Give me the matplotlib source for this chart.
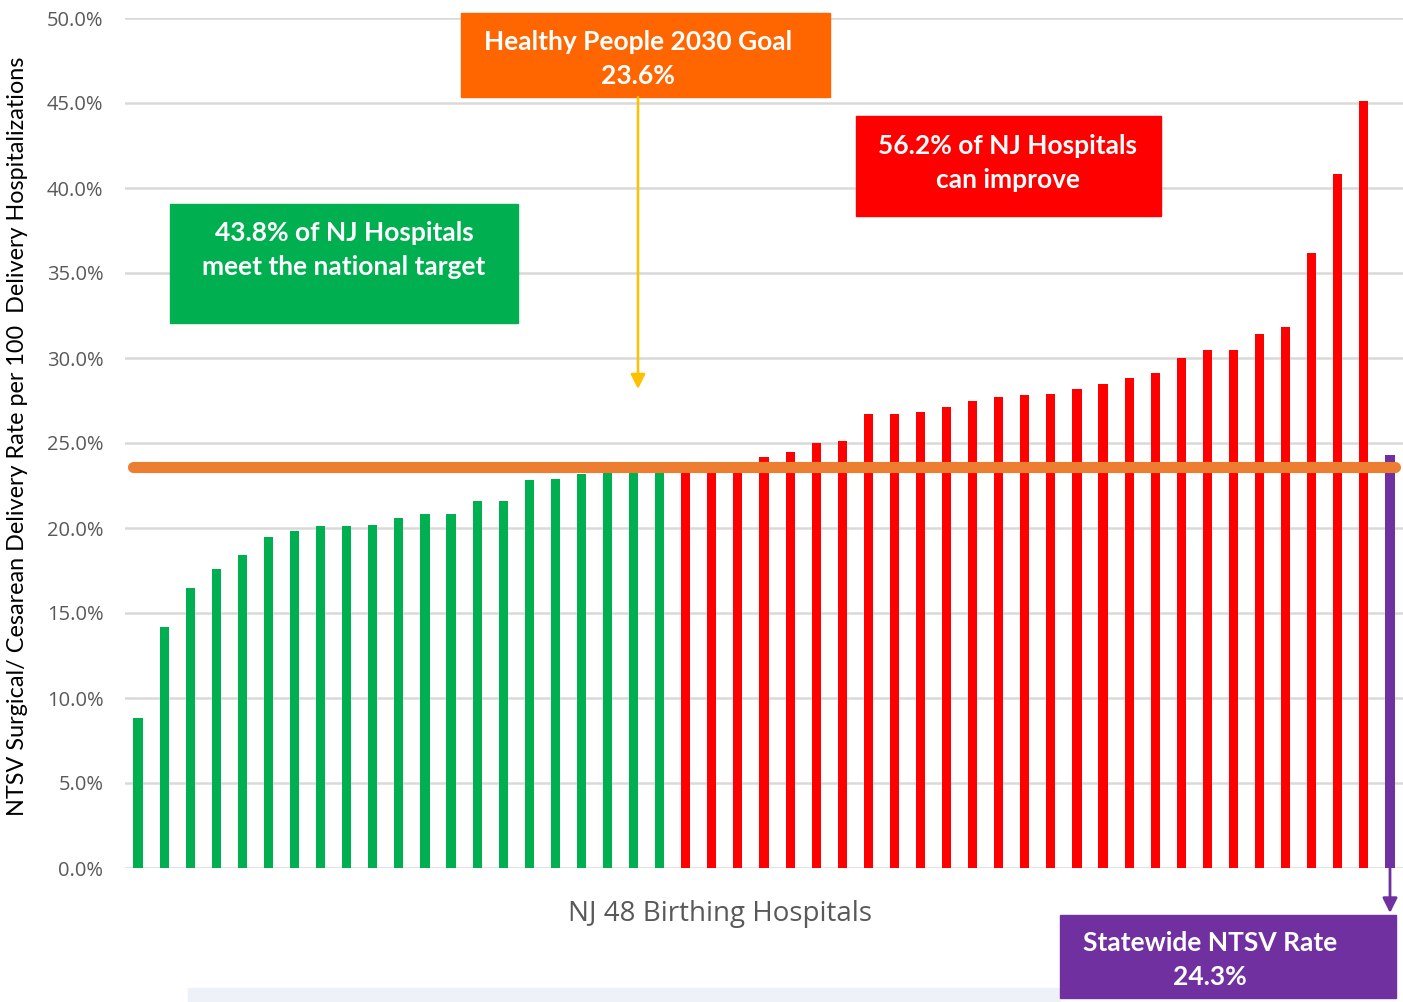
import matplotlib
matplotlib.use("Agg")
import matplotlib.pyplot as plt
from matplotlib.patches import Rectangle, FancyArrowPatch

# ---- data ----
green_rates = [8.8, 14.2, 16.5, 17.6, 18.4, 19.5, 19.8, 20.1, 20.1, 20.2, 20.6,
               20.8, 20.8, 21.6, 21.6, 22.8, 22.9, 23.2, 23.3, 23.4, 23.5]
red_rates = [23.7, 23.8, 23.9, 24.2, 24.5, 25.0, 25.1, 26.7, 26.7, 26.8, 27.1,
             27.5, 27.7, 27.8, 27.9, 28.2, 28.5, 28.8, 29.1, 30.0, 30.5, 30.5,
             31.4, 31.8, 36.2, 40.8, 45.1]
statewide_rate = 24.3
goal_rate = 23.6
yticks = [0, 5, 10, 15, 20, 25, 30, 35, 40, 45, 50]
ytick_labels = [f"{v:.1f}%" for v in yticks]

GREEN = "#00B050"
RED = "#FF0000"
PURPLE = "#7030A0"
ORANGE_LINE = "#ED7D31"
ORANGE_BOX = "#FF6600"
GOLD = "#FFC000"
GRAY = "#595959"

W, H = 1403, 1002
fig = plt.figure(figsize=(W / 100, H / 100), dpi=100)
ax = fig.add_axes([125 / W, (H - 868) / H, (1403 - 125) / W, (868 - 18) / H])

n_g = len(green_rates)
n_r = len(red_rates)
xg = list(range(n_g))
xr = list(range(n_g, n_g + n_r))
xs = n_g + n_r
bw = 0.35
ax.bar(xg, green_rates, width=bw, color=GREEN, zorder=3)
ax.bar(xr, red_rates, width=bw, color=RED, zorder=3)
ax.bar([xs], [statewide_rate], width=bw, color=PURPLE, zorder=3)

# goal line
ax.plot([-0.2, xs + 0.2], [goal_rate, goal_rate], color=ORANGE_LINE, lw=8,
        solid_capstyle="round", zorder=4)

ax.set_xlim(-0.5, xs + 0.5)
ax.set_ylim(0, 50)
ax.set_yticks(yticks)
ax.set_yticklabels(ytick_labels, color=GRAY, fontsize=14.5, family="Open Sans")
ax.set_xticks([])
ax.tick_params(axis="y", length=0, pad=15.5)
ax.grid(axis="y", color="#D9D9D9", lw=1.8, zorder=0)
ax.set_axisbelow(True)
for s in ax.spines.values():
    s.set_visible(False)

# axis labels
fig.text(18 / W, 1 - 436 / H,
         "NTSV Surgical/ Cesarean Delivery Rate per 100  Delivery Hospitalizations",
         rotation=90, ha="center", va="center", fontsize=16.8,
         family="Lato", color="black")
fig.text(720 / W, 1 - 914 / H, "NJ 48 Birthing Hospitals", ha="center",
         va="center", fontsize=20, family="Open Sans", color=GRAY)


def box(x0, y0, x1, y1, color, text, tx, ty):
    fig.patches.append(Rectangle((x0 / W, 1 - y1 / H), (x1 - x0) / W, (y1 - y0) / H,
                                 transform=fig.transFigure, color=color, zorder=5))
    fig.text(tx / W, 1 - ty / H, text, ha="center", va="center",
             color="white", fontsize=19, fontweight="bold", family="Lato",
             linespacing=1.5, zorder=6)


# bottom strip
fig.patches.append(Rectangle((188 / W, 0), (1060 - 188) / W, 14 / H,
                             transform=fig.transFigure, color="#EEF1F7", zorder=1))

box(461, 13, 830, 97, ORANGE_BOX, "Healthy People 2030 Goal\n23.6%", 638, 59)
box(856, 116, 1161, 216, RED, "56.2% of NJ Hospitals\ncan improve", 1008, 163)
box(170, 204, 518, 323, GREEN, "43.8% of NJ Hospitals\nmeet the national target", 344, 250)
box(1060, 915, 1396, 998, PURPLE, "Statewide NTSV Rate\n24.3%", 1210, 960)

# arrows
fig.patches.append(FancyArrowPatch((638 / W, 1 - 97 / H), (638 / W, 1 - 389 / H),
                                   transform=fig.transFigure, arrowstyle="-|>",
                                   mutation_scale=22, color=GOLD, lw=1.8,
                                   shrinkA=0, shrinkB=0, zorder=6))
fig.patches.append(FancyArrowPatch((1390 / W, 1 - 868 / H), (1390 / W, 1 - 913 / H),
                                   transform=fig.transFigure, arrowstyle="-|>",
                                   mutation_scale=22, color=PURPLE, lw=2,
                                   shrinkA=0, shrinkB=0, zorder=6))

fig.savefig("out.png", dpi=100)
